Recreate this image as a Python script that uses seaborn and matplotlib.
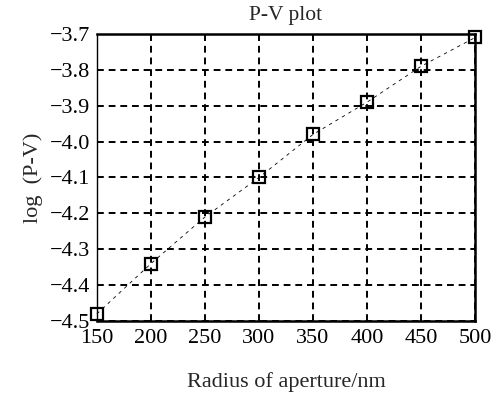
import numpy as np
import pandas as pd
import seaborn as sns
import matplotlib
matplotlib.use("Agg")
import matplotlib.pyplot as plt

# values
radius = [150, 200, 250, 300, 350, 400, 450, 500]
log_pv = [-4.48, -4.34, -4.21, -4.10, -3.98, -3.89, -3.79, -3.71]
xticks = [150, 200, 250, 300, 350, 400, 450, 500]
yticks = [-4.5, -4.4, -4.3, -4.2, -4.1, -4.0, -3.9, -3.8, -3.7]

df = pd.DataFrame({"radius": radius, "logpv": log_pv})

sns.set_style("ticks")
plt.rcParams['font.family'] = ['Liberation Serif', 'DejaVu Serif']
plt.rcParams['axes.unicode_minus'] = True

fig = plt.figure(figsize=(4.94, 3.94), dpi=100)
ax = fig.add_axes([0.196, 0.185, 0.766, 0.729])

sns.lineplot(data=df, x="radius", y="logpv", ax=ax, color="black",
             linestyle=(0, (4, 5)), linewidth=0.6, marker="s", markersize=8,
             markerfacecolor="none", markeredgecolor="black", markeredgewidth=1.6,
             zorder=3, clip_on=False)

ax.set_xlim(150, 500)
ax.set_ylim(-4.5, -3.7)
ax.set_xticks(xticks)
ax.set_yticks(yticks)
ax.set_yticklabels([f"{v:.1f}".replace("-", "\u2212") for v in yticks])
ax.grid(True, color="black", linestyle=(0, (3.5, 2.5)), linewidth=1.4)
ax.tick_params(length=0, labelsize=16, colors="black")
ax.tick_params(axis="x", pad=6)
ax.tick_params(axis="y", pad=5)

for s in ax.spines.values():
    s.set_color("black")
    s.set_linewidth(1.8)
ax.spines["left"].set_linewidth(1.0)

ax.set_title("P-V plot", fontsize=15.5, pad=10)
ax.set_xlabel("Radius of aperture/nm", fontsize=16, labelpad=17)
ax.set_ylabel("log  (P-V)", fontsize=16, labelpad=5)

fig.savefig("out.png", dpi=100)
